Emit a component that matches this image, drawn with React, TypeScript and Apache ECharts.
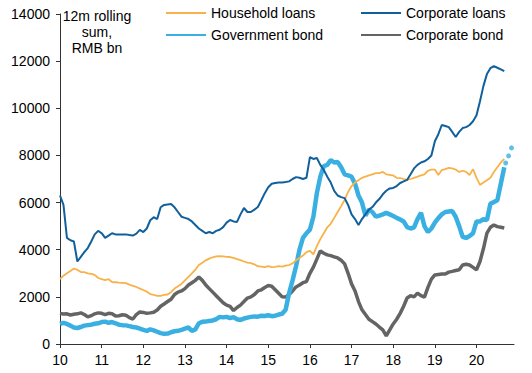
import React, { useEffect, useRef } from "react";
import * as echarts from "echarts";

// Monthly, Jan 2010 .. Sep 2020 (129 points), 12m rolling sum, RMB bn
const householdLoans = [
  2750, 2900, 3000, 3100, 3200, 3150, 3050, 3050, 3000, 2970, 2930, 2800,
  2750, 2710, 2750, 2630, 2620, 2600, 2590, 2580, 2520, 2470, 2420, 2350,
  2290, 2220, 2120, 2080, 2040, 2040, 2080, 2100, 2200, 2350, 2450, 2550,
  2700, 2850, 3000, 3150, 3350, 3450, 3550, 3620, 3680, 3720, 3730, 3720,
  3700, 3690, 3650, 3600, 3560, 3500, 3450, 3430, 3380, 3300, 3280, 3260,
  3300, 3260, 3270, 3300, 3280, 3320, 3350, 3420, 3550, 3650, 3750, 3900,
  3950, 3800, 4150, 4450, 4700, 4950, 5100, 5350, 5600, 5850, 6110, 6450,
  6700, 6850, 6950, 7050, 7100, 7150, 7200, 7250, 7250, 7300, 7200, 7170,
  7150, 7050, 7040, 7000, 6960, 7000, 7050, 7100, 7150, 7200, 7350, 7400,
  7400, 7170, 7380, 7420, 7470, 7450, 7400, 7300, 7350, 7300, 7170, 7420,
  7050, 6750, 6850, 6950, 7050, 7300, 7500, 7700, 7850,
];
const corporateLoans = [
  6300, 5900, 4500, 4400, 4350, 3500, 3700, 3900, 4070, 4350, 4650, 4800,
  4700, 4500, 4600, 4700, 4650, 4650, 4650, 4650, 4620, 4600, 4680, 4840,
  4750, 4900, 5250, 5380, 5300, 5800, 5900, 5920, 5940, 5800, 5600, 5400,
  5350, 5300, 5200, 5050, 4900, 4800, 4700, 4750, 4700, 4800, 4850, 4960,
  5150, 5260, 5200, 5180, 5500, 5770, 5600, 5600, 5700, 5810, 6100, 6400,
  6650, 6800, 6830, 6850, 6850, 6870, 6900, 7000, 7080, 7050, 7000, 7050,
  7930, 7850, 7890, 7600, 7380, 7100, 6850, 6500, 6300, 6230, 6190, 5900,
  5500, 5300, 5050, 5300, 5500, 5700, 5810, 6000, 6150, 6350, 6500, 6600,
  6620, 6700, 6830, 6900, 6960, 7200, 7450, 7600, 7700, 7750, 7850, 8000,
  8600, 8900, 9290, 9250, 9200, 9000, 8780, 9000, 9160, 9200, 9290, 9450,
  9700, 10300, 10950, 11450, 11700, 11790, 11720, 11650, 11580,
];
const governmentBond = [
  850, 900, 850, 780, 700, 680, 720, 780, 800, 820, 860, 880,
  930, 950, 900, 930, 880, 820, 800, 790, 760, 720, 700, 650,
  600, 560, 620, 580, 520, 460, 430, 440, 500, 540, 560, 600,
  650, 700, 560, 620, 880, 940, 950, 980, 1000, 1050, 1150, 1130,
  1150, 1100, 1140, 1050, 1020, 1080, 1120, 1150, 1170, 1160, 1200, 1190,
  1220, 1180, 1200, 1250, 1280, 1450, 2150, 2700, 3300, 4000, 4500, 4700,
  4850, 5400, 6400, 7100, 7550, 7600, 7800, 7700, 7720, 7500, 7200, 7150,
  7100, 6800, 6300, 6000, 5450, 5700, 5600, 5400, 5450, 5500, 5560, 5500,
  5430, 5350, 5280, 5200, 4960, 4900, 4950, 5300, 5560, 5000, 4750, 4900,
  5150, 5340, 5500, 5600, 5620, 5640, 5400, 5000, 4550, 4500, 4580, 4700,
  5200, 5200, 5300, 5260, 5950, 6020, 6100, 6800, 7500,
];
const corporateBond = [
  1300, 1270, 1280, 1230, 1260, 1280, 1320, 1250, 1150, 1200, 1280, 1320,
  1300, 1250, 1300, 1280, 1190, 1200, 1240, 1220, 1120, 1060, 1250, 1360,
  1340, 1300, 1320, 1350, 1440, 1600, 1700, 1800, 1900, 2100, 2200, 2250,
  2350, 2500, 2600, 2700, 2840, 2700, 2500, 2350, 2200, 2050, 1900, 1750,
  1650, 1600, 1420, 1550, 1650, 1800, 1950, 2000, 2100, 2250, 2300, 2400,
  2480, 2450, 2300, 2150, 2000, 1990, 2100, 2250, 2420, 2500, 2600, 2650,
  3000, 3260, 3600, 3950, 3850, 3780, 3750, 3700, 3650, 3550, 3400, 3000,
  2550, 2250, 1800, 1450, 1250, 1050, 950, 850, 720, 600, 340, 600,
  850, 1050, 1300, 1600, 1950, 2050, 2000, 2160, 2050, 1990, 2400, 2750,
  2930, 2950, 2970, 2970, 3050, 3080, 3120, 3150, 3350, 3380, 3350, 3250,
  3150, 3500, 4050, 4700, 4950, 5050, 4980, 4950, 4920,
];
// Government bond projection (dotted tail)
const govProjectionX = [20.7, 20.77, 20.84];
const govProjection = [7680, 7980, 8320];

const yTicks = [0, 2000, 4000, 6000, 8000, 10000, 12000, 14000];
const xTickLabels = ["10", "11", "12", "13", "14", "15", "16", "17", "18", "19", "20"];

const FONT = "'Liberation Sans', Arial, sans-serif";

const toPairs = (arr: number[]) => arr.map((v, i) => [10 + i / 12, v]);

export default function App() {
  const ref = useRef<HTMLDivElement>(null);
  useEffect(() => {
    if (!ref.current) return;
    const chart = echarts.init(ref.current, undefined, { renderer: "svg" });
    const legendText = { fontFamily: FONT, fontSize: 14, color: "#000" };
    const legendCommon = {
      orient: "vertical",
      top: 6,
      padding: 0,
      itemWidth: 40,
      itemHeight: 14,
      itemGap: 8,
      itemStyle: { opacity: 0 },
      textStyle: legendText,
    };
    chart.setOption({
      animation: false,
      backgroundColor: "#fff",
      grid: { left: 60, right: 18, top: 14, bottom: 29 },
      legend: [
        { ...legendCommon, left: 165, data: ["Household loans", "Government bond"] },
        { ...legendCommon, left: 360, data: ["Corporate loans", "Corporate bond"] },
      ],
      xAxis: {
        type: "value",
        min: 10,
        max: 20.9,
        interval: 1,
        axisLine: { lineStyle: { color: "#333", width: 1 } },
        axisTick: { show: true, length: 4, lineStyle: { color: "#333" } },
        splitLine: { show: false },
        axisLabel: {
          fontFamily: FONT,
          fontSize: 14,
          color: "#000",
          margin: 9,
          showMaxLabel: false,
          formatter: (v: number) => {
            const idx = Math.round(v) - 10;
            return xTickLabels[idx] ?? "";
          },
        },
      },
      yAxis: {
        type: "value",
        min: yTicks[0],
        max: yTicks[yTicks.length - 1],
        interval: 2000,
        axisLine: { show: true, lineStyle: { color: "#333", width: 1 } },
        axisTick: { show: true, length: 4, lineStyle: { color: "#333" } },
        splitLine: { show: false },
        axisLabel: {
          fontFamily: FONT,
          fontSize: 14,
          color: "#000",
          margin: 10,
          formatter: (v: number) => String(v),
        },
      },
      graphic: [
        {
          type: "text",
          x: 97,
          y: 8,
          style: {
            text: "12m rolling\nsum,\nRMB bn",
            fontFamily: FONT,
            fontSize: 14,
            lineHeight: 16,
            fill: "#000",
            align: "center",
            verticalAlign: "top",
          },
        },
      ],
      series: [
        {
          name: "Government bond",
          type: "line",
          data: toPairs(governmentBond),
          showSymbol: false,
          symbol: "none",
          lineStyle: { color: "#3AB0E2", width: 4.5 },
          itemStyle: { color: "#3AB0E2" },
          z: 3,
        },
        {
          name: "Corporate bond",
          type: "line",
          data: toPairs(corporateBond),
          showSymbol: false,
          symbol: "none",
          lineStyle: { color: "#646464", width: 3.5 },
          itemStyle: { color: "#646464" },
          z: 2,
        },
        {
          name: "Household loans",
          type: "line",
          data: toPairs(householdLoans),
          showSymbol: false,
          symbol: "none",
          lineStyle: { color: "#F9B24A", width: 1.8 },
          itemStyle: { color: "#F9B24A" },
          z: 4,
        },
        {
          name: "Corporate loans",
          type: "line",
          data: toPairs(corporateLoans),
          showSymbol: false,
          symbol: "none",
          lineStyle: { color: "#11609B", width: 2 },
          itemStyle: { color: "#11609B" },
          z: 5,
        },
        {
          name: "Gov projection",
          type: "scatter",
          data: govProjectionX.map((x, i) => [x, govProjection[i]]),
          symbol: "circle",
          symbolSize: 5,
          itemStyle: { color: "#3AB0E2" },
          z: 3,
        },
      ],
    });
    return () => chart.dispose();
  }, []);
  return <div ref={ref} style={{ width: 532, height: 373, position: "absolute", left: 0, top: 0 }} />;
}
